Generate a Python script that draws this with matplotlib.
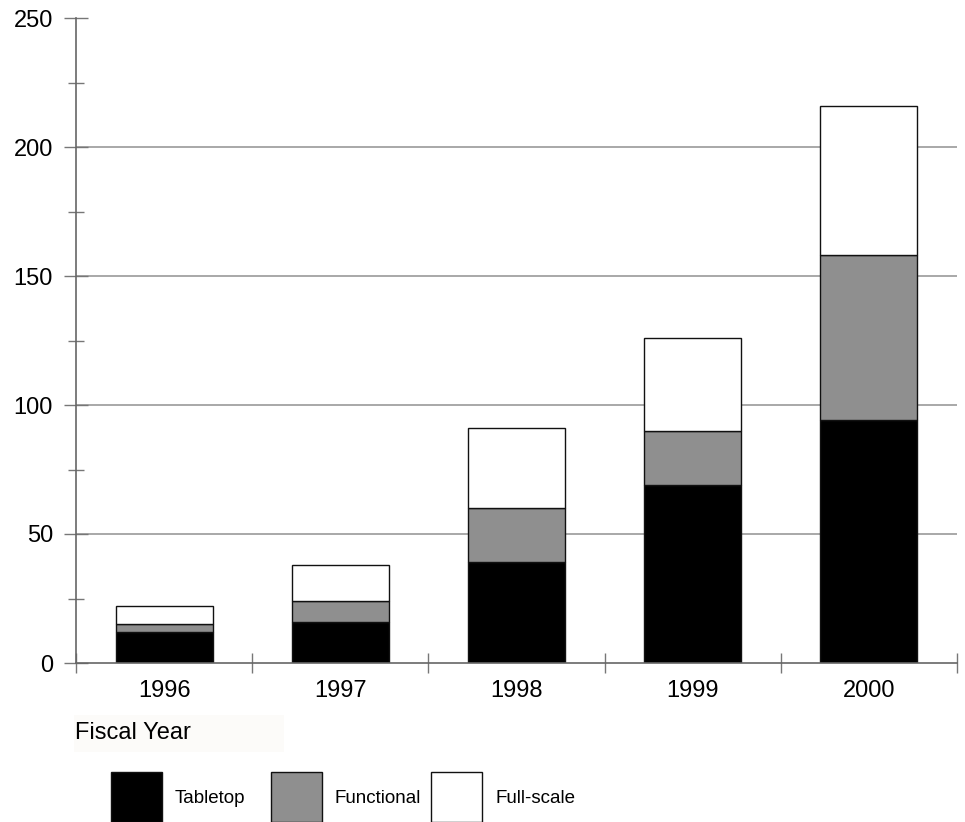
import numpy as np
import matplotlib.pyplot as plt
from matplotlib.patches import Rectangle
from matplotlib.ticker import MultipleLocator, FixedLocator

plt.rcParams['font.family'] = ['Liberation Sans', 'DejaVu Sans']

# данные
years = ['1996', '1997', '1998', '1999', '2000']
series = ['Tabletop', 'Functional', 'Full-scale']
tabletop = [12, 16, 39, 69, 94]
functional = [3, 8, 21, 21, 64]
fullscale = [7, 14, 31, 36, 58]
colors = ['#000000', '#8f8f8f', '#ffffff']

W, H = 965, 822
fig = plt.figure(figsize=(W / 100, H / 100), dpi=100)
ax = fig.add_axes([76 / W, 1 - 663 / H, 881 / W, 645 / H])

x = np.arange(len(years))
bottom = np.zeros(len(years))
for vals, c in zip([tabletop, functional, fullscale], colors):
    ax.bar(x, vals, width=0.55, bottom=bottom, color=c, edgecolor='#111111',
           linewidth=1.0, zorder=3)
    bottom += np.array(vals)

ax.set_xlim(-0.5, len(years) - 0.5)
ax.set_ylim(0, 250)

ax.yaxis.set_major_locator(MultipleLocator(50))
ax.yaxis.set_minor_locator(MultipleLocator(25))
ax.tick_params(axis='y', which='major', direction='inout', length=17, width=1,
               color='#777777', labelsize=17, pad=8)
ax.tick_params(axis='y', which='minor', direction='inout', length=11.5, width=1,
               color='#777777')

ax.set_xticks(x)
ax.set_xticklabels(years)
ax.xaxis.set_minor_locator(FixedLocator(np.arange(-0.5, len(years), 1.0)))
ax.tick_params(axis='x', which='major', length=0, labelsize=17, pad=12)
ax.tick_params(axis='x', which='minor', direction='inout', length=15, width=1,
               color='#777777')

for v in [50, 100, 150, 200]:
    ax.axhline(v, color='#999999', linewidth=1.2, zorder=1)

for s in ['top', 'right']:
    ax.spines[s].set_visible(False)
for s in ['left', 'bottom']:
    ax.spines[s].set_color('#666666')
    ax.spines[s].set_linewidth(1.2)
ax.spines['bottom'].set_zorder(4)

# подпись оси
fig.add_artist(Rectangle((74 / W, 1 - 752 / H), 210 / W, 37 / H,
                         transform=fig.transFigure, facecolor='#fcfbf9',
                         edgecolor='none'))
fig.text(75 / W, 1 - 733 / H, 'Fiscal Year', fontsize=17, va='center', ha='left')

# легенда
for i, (name, c) in enumerate(zip(series, colors)):
    x0 = 111 + 160 * i
    fig.add_artist(Rectangle((x0 / W, 0), 51 / W, (H - 772) / H,
                             transform=fig.transFigure, facecolor=c,
                             edgecolor='#111111', linewidth=1.0))
    fig.text((x0 + 64) / W, 1 - 798 / H, name, fontsize=13.5, va='center', ha='left')

fig.savefig('out.png', dpi=100)
